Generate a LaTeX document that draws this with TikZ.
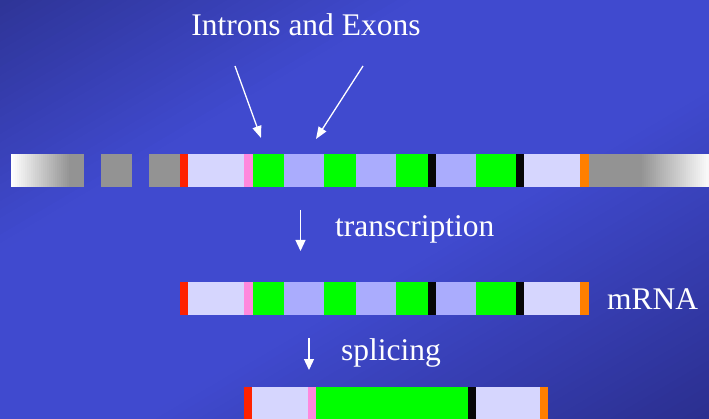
\documentclass[tikz,border=0pt]{standalone}
\usepackage{fontspec}
\setmainfont{Liberation Serif}
\usetikzlibrary{arrows.meta}

\definecolor{bgdark}{RGB}{46,52,150}
\definecolor{bgmid}{RGB}{64,74,207}
\definecolor{bgdeep}{RGB}{43,47,143}
\definecolor{utr}{RGB}{214,214,254}
\definecolor{intron}{RGB}{170,172,253}
\definecolor{exon}{RGB}{0,255,0}
\definecolor{capred}{RGB}{255,34,0}
\definecolor{startpink}{RGB}{255,136,221}
\definecolor{stopblk}{RGB}{6,6,6}
\definecolor{polyA}{RGB}{255,127,0}
\definecolor{flank}{RGB}{147,147,147}
\definecolor{flankend}{RGB}{248,248,248}

\tikzset{
  label/.style={text=white, font=\fontsize{31.5}{36}\selectfont, inner sep=0pt, anchor=base},
  pointer/.style={draw=white, line width=1.3pt, -{Triangle[width=9pt,length=12pt]}},
  stepdown/.style={draw=white, line width=1.3pt, -{Triangle[width=10pt,length=11pt]}},
}

\begin{document}
\begin{tikzpicture}[x=1pt, y=-1pt]
  \useasboundingbox (0,0) rectangle (709,419);

  % background: diagonal bands u+v=c, dark in the top-left and bottom-right corners
  \begin{scope}
    \clip (0,0) rectangle (709,419);
    \begin{scope}[xscale=709, yscale=419]
      \foreach \i in {0,...,99}{
        \pgfmathsetmacro{\c}{\i*0.02}
        \pgfmathsetmacro{\d}{\c+0.025}
        \pgfmathsetmacro{\m}{0.5*(\c+\d)}
        \ifdim\m pt<0.6pt
          \pgfmathsetmacro{\p}{100*\m/0.6}
          \fill[bgmid!\p!bgdark] (\c,0) -- (\d,0) -- (\d-1,1) -- (\c-1,1) -- cycle;
        \else
          \ifdim\m pt<1.2pt
            \fill[bgmid] (\c,0) -- (\d,0) -- (\d-1,1) -- (\c-1,1) -- cycle;
          \else
            \pgfmathsetmacro{\p}{100*(2-\m)/0.8}
            \fill[bgmid!\p!bgdeep] (\c,0) -- (\d,0) -- (\d-1,1) -- (\c-1,1) -- cycle;
          \fi
        \fi
      }
    \end{scope}
  \end{scope}

  % ---- genomic DNA ----
  \def\ya{154}\def\yb{187}
  \foreach \k in {0,...,29}{
    \pgfmathsetmacro{\p}{100*\k/29}
    \fill[flank!\p!white] (11+2*\k,\ya) rectangle (13.5+2*\k,\yb);
  }
  \fill[flank] (70,\ya) rectangle (84,\yb);
  \fill[flank] (101,\ya) rectangle (132,\yb);
  \fill[flank] (149,\ya) rectangle (180,\yb);
  \fill[capred]    (180,\ya) rectangle (188,\yb);
  \fill[utr]       (188,\ya) rectangle (244,\yb);
  \fill[startpink] (244,\ya) rectangle (253,\yb);
  \fill[exon]      (253,\ya) rectangle (284,\yb);
  \fill[intron]    (284,\ya) rectangle (324,\yb);
  \fill[exon]      (324,\ya) rectangle (356,\yb);
  \fill[intron]    (356,\ya) rectangle (396,\yb);
  \fill[exon]      (396,\ya) rectangle (428,\yb);
  \fill[stopblk]   (428,\ya) rectangle (436,\yb);
  \fill[intron]    (436,\ya) rectangle (476,\yb);
  \fill[exon]      (476,\ya) rectangle (516,\yb);
  \fill[stopblk]   (516,\ya) rectangle (524,\yb);
  \fill[utr]       (524,\ya) rectangle (580,\yb);
  \fill[polyA]     (580,\ya) rectangle (589,\yb);
  \fill[flank]     (589,\ya) rectangle (641,\yb);
  \foreach \k in {0,...,33}{
    \pgfmathsetmacro{\p}{100*\k/33}
    \fill[flankend!\p!flank] (640+2*\k,\ya) rectangle (642.5+2*\k,\yb);
  }

  % ---- mRNA ----
  \def\ya{282}\def\yb{315}
  \fill[capred]    (180,\ya) rectangle (188,\yb);
  \fill[utr]       (188,\ya) rectangle (244,\yb);
  \fill[startpink] (244,\ya) rectangle (253,\yb);
  \fill[exon]      (253,\ya) rectangle (284,\yb);
  \fill[intron]    (284,\ya) rectangle (324,\yb);
  \fill[exon]      (324,\ya) rectangle (356,\yb);
  \fill[intron]    (356,\ya) rectangle (396,\yb);
  \fill[exon]      (396,\ya) rectangle (428,\yb);
  \fill[stopblk]   (428,\ya) rectangle (436,\yb);
  \fill[intron]    (436,\ya) rectangle (476,\yb);
  \fill[exon]      (476,\ya) rectangle (516,\yb);
  \fill[stopblk]   (516,\ya) rectangle (524,\yb);
  \fill[utr]       (524,\ya) rectangle (580,\yb);
  \fill[polyA]     (580,\ya) rectangle (589,\yb);

  % ---- spliced product ----
  \def\ya{387}\def\yb{419}
  \fill[capred]    (244,\ya) rectangle (252,\yb);
  \fill[utr]       (252,\ya) rectangle (308,\yb);
  \fill[startpink] (308,\ya) rectangle (316,\yb);
  \fill[exon]      (316,\ya) rectangle (468,\yb);
  \fill[stopblk]   (468,\ya) rectangle (476,\yb);
  \fill[utr]       (476,\ya) rectangle (540,\yb);
  \fill[polyA]     (540,\ya) rectangle (548,\yb);

  % ---- labels ----
  \node[label] (title) at (306,36) {Introns and Exons};
  \node[label, anchor=base west] (tx) at (335,237) {transcription};
  \node[label, anchor=base west] (mrna) at (607,310) {mRNA};
  \node[label, anchor=base west] (sp) at (341,360) {splicing};

  % ---- arrows ----
  \coordinate (exonL) at (235,66);
  \coordinate (exonTip) at (261,138);
  \coordinate (intronR) at (363,66);
  \coordinate (intronTip) at (316,139);
  \draw[pointer] (exonL) -- (exonTip);
  \draw[pointer] (intronR) -- (intronTip);

  \coordinate (txTop) at (300.5,210);
  \coordinate (txTip) at (300.5,251);
  \draw[stepdown] (txTop) -- (txTip);

  \coordinate (spTop) at (309,338);
  \coordinate (spTip) at (309,370);
  \draw[stepdown] (spTop) -- (spTip);
\end{tikzpicture}
\end{document}
